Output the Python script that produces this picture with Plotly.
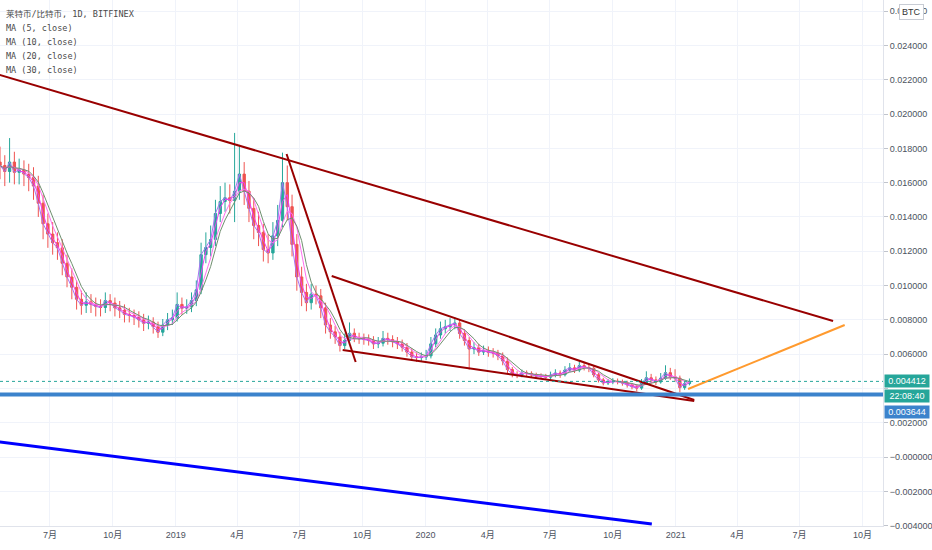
import pandas as pd
import plotly.graph_objects as go

# =====================================================
# Data (weekly candles)
# =====================================================

WEEK_CENTERS = pd.date_range("2018-04-19", periods=145, freq="7D")

opens = [
    0.01720, 0.01700, 0.01665, 0.01720, 0.01660, 0.01675, 0.01650, 0.01630, 0.01580, 0.01480,
    0.01360, 0.01300, 0.01250, 0.01220, 0.01130, 0.01050, 0.00990, 0.00920, 0.00885, 0.00905,
    0.00890, 0.00878, 0.00872, 0.00912, 0.00898, 0.00870, 0.00856, 0.00832, 0.00826, 0.00816,
    0.00800, 0.00780, 0.00787, 0.00760, 0.00728, 0.00770, 0.00800, 0.00812, 0.00890, 0.00868,
    0.00875, 0.00912, 0.00975, 0.01180, 0.01222, 0.01268, 0.01420, 0.01490, 0.01512, 0.01496,
    0.01550, 0.01650, 0.01550, 0.01450, 0.01350, 0.01310, 0.01210, 0.01190, 0.01290, 0.01380,
    0.01600, 0.01460, 0.01240, 0.01050, 0.00960, 0.00900, 0.00950, 0.00940, 0.00870, 0.00770,
    0.00730, 0.00700, 0.00650, 0.00680, 0.00722, 0.00698, 0.00690, 0.00686, 0.00680, 0.00660,
    0.00664, 0.00692, 0.00685, 0.00672, 0.00660, 0.00640, 0.00612, 0.00585, 0.00580, 0.00583,
    0.00590, 0.00660, 0.00712, 0.00748, 0.00760, 0.00770, 0.00782, 0.00720, 0.00680, 0.00630,
    0.00638, 0.00612, 0.00622, 0.00610, 0.00606, 0.00590, 0.00560, 0.00510, 0.00482, 0.00478,
    0.00490, 0.00488, 0.00478, 0.00472, 0.00470, 0.00466, 0.00478, 0.00490, 0.00480, 0.00507,
    0.00520, 0.00507, 0.00533, 0.00522, 0.00518, 0.00480, 0.00450, 0.00432, 0.00438, 0.00442,
    0.00440, 0.00432, 0.00421, 0.00410, 0.00402, 0.00430, 0.00462, 0.00450, 0.00438, 0.00460,
    0.00492, 0.00468, 0.00460, 0.00405, 0.00428,
]

highs = [
    0.01810, 0.01760, 0.01860, 0.01780, 0.01740, 0.01730, 0.01710, 0.01690, 0.01640, 0.01530,
    0.01420, 0.01370, 0.01310, 0.01270, 0.01180, 0.01100, 0.01030, 0.00970, 0.00960, 0.00950,
    0.00930, 0.00920, 0.00960, 0.00950, 0.00930, 0.00910, 0.00890, 0.00870, 0.00860, 0.00850,
    0.00835, 0.00825, 0.00815, 0.00790, 0.00805, 0.00840, 0.00860, 0.00960, 0.00930, 0.00920,
    0.00960, 0.01030, 0.01250, 0.01310, 0.01350, 0.01500, 0.01580, 0.01600, 0.01590, 0.01890,
    0.01820, 0.01720, 0.01610, 0.01510, 0.01430, 0.01360, 0.01300, 0.01370, 0.01470, 0.01775,
    0.01700, 0.01530, 0.01300, 0.01110, 0.01010, 0.01010, 0.01000, 0.00980, 0.00900, 0.00810,
    0.00765, 0.00730, 0.00720, 0.00785, 0.00750, 0.00725, 0.00720, 0.00715, 0.00705, 0.00700,
    0.00735, 0.00725, 0.00710, 0.00700, 0.00685, 0.00665, 0.00635, 0.00610, 0.00610, 0.00625,
    0.00700, 0.00750, 0.00790, 0.00800, 0.00810, 0.00815, 0.00800, 0.00745, 0.00700, 0.00670,
    0.00660, 0.00650, 0.00645, 0.00635, 0.00625, 0.00610, 0.00580, 0.00525, 0.00500, 0.00510,
    0.00505, 0.00500, 0.00492, 0.00488, 0.00485, 0.00498, 0.00512, 0.00505, 0.00530, 0.00548,
    0.00538, 0.00565, 0.00555, 0.00545, 0.00530, 0.00492, 0.00462, 0.00455, 0.00460, 0.00458,
    0.00452, 0.00445, 0.00432, 0.00425, 0.00455, 0.00500, 0.00485, 0.00470, 0.00490, 0.00535,
    0.00520, 0.00512, 0.00475, 0.00445, 0.00458,
]

lows = [
    0.01620, 0.01580, 0.01600, 0.01590, 0.01590, 0.01580, 0.01550, 0.01500, 0.01400, 0.01270,
    0.01220, 0.01180, 0.01150, 0.01060, 0.00990, 0.00920, 0.00860, 0.00830, 0.00840, 0.00840,
    0.00820, 0.00820, 0.00840, 0.00850, 0.00820, 0.00810, 0.00785, 0.00785, 0.00770, 0.00755,
    0.00735, 0.00745, 0.00720, 0.00695, 0.00705, 0.00740, 0.00770, 0.00790, 0.00830, 0.00835,
    0.00845, 0.00880, 0.00950, 0.01130, 0.01170, 0.01230, 0.01370, 0.01430, 0.01420, 0.01370,
    0.01500, 0.01470, 0.01370, 0.01270, 0.01230, 0.01140, 0.01130, 0.01150, 0.01230, 0.01340,
    0.01380, 0.01170, 0.00970, 0.00880, 0.00850, 0.00860, 0.00890, 0.00810, 0.00720, 0.00690,
    0.00660, 0.00615, 0.00630, 0.00660, 0.00670, 0.00660, 0.00655, 0.00650, 0.00630, 0.00635,
    0.00645, 0.00655, 0.00640, 0.00630, 0.00615, 0.00585, 0.00560, 0.00555, 0.00555, 0.00565,
    0.00575, 0.00640, 0.00690, 0.00720, 0.00735, 0.00745, 0.00690, 0.00650, 0.00510, 0.00600,
    0.00590, 0.00595, 0.00585, 0.00580, 0.00565, 0.00535, 0.00490, 0.00465, 0.00460, 0.00465,
    0.00470, 0.00462, 0.00456, 0.00455, 0.00450, 0.00452, 0.00465, 0.00462, 0.00470, 0.00495,
    0.00490, 0.00495, 0.00505, 0.00495, 0.00465, 0.00435, 0.00418, 0.00420, 0.00425, 0.00424,
    0.00416, 0.00405, 0.00395, 0.00383, 0.00392, 0.00420, 0.00430, 0.00420, 0.00428, 0.00450,
    0.00450, 0.00440, 0.00378, 0.00392, 0.00418,
]

closes = [
    0.01700, 0.01665, 0.01720, 0.01660, 0.01675, 0.01650, 0.01630, 0.01580, 0.01480, 0.01360,
    0.01300, 0.01250, 0.01220, 0.01130, 0.01050, 0.00990, 0.00920, 0.00885, 0.00905, 0.00890,
    0.00878, 0.00872, 0.00912, 0.00898, 0.00870, 0.00856, 0.00832, 0.00826, 0.00816, 0.00800,
    0.00780, 0.00787, 0.00760, 0.00728, 0.00770, 0.00800, 0.00812, 0.00890, 0.00868, 0.00875,
    0.00912, 0.00975, 0.01180, 0.01222, 0.01268, 0.01420, 0.01490, 0.01512, 0.01496, 0.01550,
    0.01650, 0.01550, 0.01450, 0.01350, 0.01310, 0.01210, 0.01190, 0.01290, 0.01380, 0.01600,
    0.01460, 0.01240, 0.01050, 0.00960, 0.00900, 0.00950, 0.00940, 0.00870, 0.00770, 0.00730,
    0.00700, 0.00650, 0.00680, 0.00722, 0.00698, 0.00690, 0.00686, 0.00680, 0.00660, 0.00664,
    0.00692, 0.00685, 0.00672, 0.00660, 0.00640, 0.00612, 0.00585, 0.00580, 0.00583, 0.00590,
    0.00660, 0.00712, 0.00748, 0.00760, 0.00770, 0.00782, 0.00720, 0.00680, 0.00630, 0.00638,
    0.00612, 0.00622, 0.00610, 0.00606, 0.00590, 0.00560, 0.00510, 0.00482, 0.00478, 0.00490,
    0.00488, 0.00478, 0.00472, 0.00470, 0.00466, 0.00478, 0.00490, 0.00480, 0.00507, 0.00520,
    0.00507, 0.00533, 0.00522, 0.00518, 0.00480, 0.00450, 0.00432, 0.00438, 0.00442, 0.00440,
    0.00432, 0.00421, 0.00410, 0.00402, 0.00430, 0.00462, 0.00450, 0.00438, 0.00460, 0.00492,
    0.00468, 0.00460, 0.00405, 0.00428, 0.004412,
]

# MA label -> window in weekly candles (daily MA lag matched roughly)
MA_WINDOWS = {"MA (5, close)": 1, "MA (10, close)": 2, "MA (20, close)": 4, "MA (30, close)": 5}
MA_COLORS = ["#a872f5", "#f03cf2", "#ff6ff0", "#6f8f6f"]

# Drawn trendlines: (dates, prices)
trend_long_x = ["2018-04-12", "2021-08-19"]
trend_long_y = [0.02236, 0.00793]
trend_drop_x = ["2019-06-12", "2019-09-21"]
trend_drop_y = [0.01767, 0.00554]
wedge_top_x = ["2019-08-17", "2021-01-28"]
wedge_top_y = [0.010554, 0.003324]
wedge_bot_x = ["2019-09-02", "2021-01-28"]
wedge_bot_y = [0.006239, 0.003265]
target_x = ["2021-01-19", "2021-09-05"]
target_y = [0.003965, 0.0077]
blue_x = ["2018-04-04", "2020-11-27"]
blue_y = [0.00095, -0.003907]

LAST_PRICE = 0.004412
SUPPORT = 0.003644

month_ticks = ["2018-07-01", "2018-10-01", "2019-01-01", "2019-04-01", "2019-07-01",
               "2019-10-01", "2020-01-01", "2020-04-01", "2020-07-01", "2020-10-01",
               "2021-01-01", "2021-04-01", "2021-07-01", "2021-10-01"]
month_labels = ["7月", "10月", "2019", "4月", "7月", "10月", "2020", "4月", "7月", "10月",
                "2021", "4月", "7月", "10月"]

price_ticks = [round(-0.004 + 0.002 * i, 3) for i in range(16)]


def price_label(v):
    if abs(v - 0.004) < 1e-9:
        return ""  # hidden behind the last-price box
    if v > 0:
        return f"{v:.6f}"
    return "\u2212" + f"{abs(v):.6f}"


# =====================================================
# Figure
# =====================================================

fig = go.Figure()

close_s = pd.Series(closes, index=WEEK_CENTERS)
for (label, win), color in zip(MA_WINDOWS.items(), MA_COLORS):
    ma = close_s.rolling(win, min_periods=1).mean()
    fig.add_trace(
        go.Scatter(x=ma.index, y=ma.values, mode="lines", name=label,
                   line=dict(color=color, width=1), showlegend=False, hoverinfo="skip")
    )

fig.add_trace(
    go.Candlestick(
        x=WEEK_CENTERS,
        open=opens,
        high=highs,
        low=lows,
        close=closes,
        increasing=dict(line=dict(color="#26a69a", width=1), fillcolor="#26a69a"),
        decreasing=dict(line=dict(color="#ef5350", width=1), fillcolor="#ef5350"),
        whiskerwidth=0,
        showlegend=False,
        hoverinfo="skip",
    )
)

# support line + last price line
fig.add_hline(y=SUPPORT, line=dict(color="#3c83cc", width=4))
fig.add_hline(y=LAST_PRICE, line=dict(color="#26a69a", width=1, dash="dot"))

drawings = [
    (trend_long_x, trend_long_y, "#990000", 2),
    (trend_drop_x, trend_drop_y, "#990000", 2),
    (wedge_top_x, wedge_top_y, "#990000", 2),
    (wedge_bot_x, wedge_bot_y, "#990000", 2),
    (target_x, target_y, "#ff9a2e", 2),
    (blue_x, blue_y, "#0000ff", 3),
]
for xs, ys, color, width in drawings:
    fig.add_trace(
        go.Scatter(x=xs, y=ys, mode="lines", line=dict(color=color, width=width),
                   showlegend=False, hoverinfo="skip")
    )

# =====================================================
# Text: legend, axis labels
# =====================================================

legend_lines = ["莱特币/比特币, 1D, BITFINEX"] + list(MA_WINDOWS.keys())
for i, txt in enumerate(legend_lines):
    fig.add_annotation(
        text=txt, xref="paper", yref="paper", x=0, y=1, xanchor="left", yanchor="middle",
        xshift=4, yshift=-14 - 14 * i, showarrow=False,
        font=dict(family="DejaVu Sans Mono, Noto Sans CJK SC", size=8.5, color="#4a4a4a"),
    )


def price_box(text, y, bg, yshift=0):
    fig.add_annotation(
        text=text, xref="paper", yref="y", x=1, y=y, xanchor="left", yanchor="middle",
        xshift=1, yshift=yshift, showarrow=False, width=44, height=12, borderpad=0,
        align="center", bgcolor=bg,
        font=dict(family="Liberation Sans", size=9, color="white"),
    )


price_box(f"{LAST_PRICE:.6f}", LAST_PRICE, "#26a69a")
price_box("22:08:40", LAST_PRICE, "#26a69a", yshift=-15)
price_box(f"{SUPPORT:.6f}", SUPPORT, "#3c83cc", yshift=-17)

fig.add_annotation(
    text="BTC", xref="paper", yref="paper", x=1, y=1, xanchor="left", yanchor="top",
    xshift=16, yshift=-4, showarrow=False, bgcolor="white", bordercolor="#c8ccd4",
    borderwidth=1, borderpad=2, font=dict(family="Liberation Sans", size=9, color="#333"),
)

# =====================================================
# Layout
# =====================================================

fig.update_layout(
    width=932,
    height=550,
    margin=dict(l=0, r=49, t=0, b=24, autoexpand=False),
    plot_bgcolor="white",
    paper_bgcolor="white",
    showlegend=False,
    hovermode=False,
)

fig.update_xaxes(
    range=["2018-04-19", "2021-10-31"],
    rangeslider_visible=False,
    tickvals=month_ticks,
    ticktext=month_labels,
    tickfont=dict(family="Liberation Sans, Noto Sans CJK SC", size=9, color="#4c525e"),
    showgrid=True,
    gridcolor="#f0f3fa",
    showline=True,
    linecolor="#e0e3eb",
    ticks="",
    zeroline=False,
)

fig.update_yaxes(
    side="right",
    range=[-0.00402, 0.02665],
    tickvals=price_ticks,
    ticktext=[price_label(v) for v in price_ticks],
    tickfont=dict(family="Liberation Sans", size=9, color="#4c525e"),
    showgrid=True,
    gridcolor="#f0f3fa",
    showline=True,
    linecolor="#e0e3eb",
    ticks="outside",
    ticklen=4,
    tickcolor="#c0c4cc",
    zeroline=False,
)

# page body has a default 8px margin; drop it so the figure fills the window
fig.write_html(
    "out.html",
    config={"displayModeBar": False},
    post_script="document.body.style.margin='0';",
)
